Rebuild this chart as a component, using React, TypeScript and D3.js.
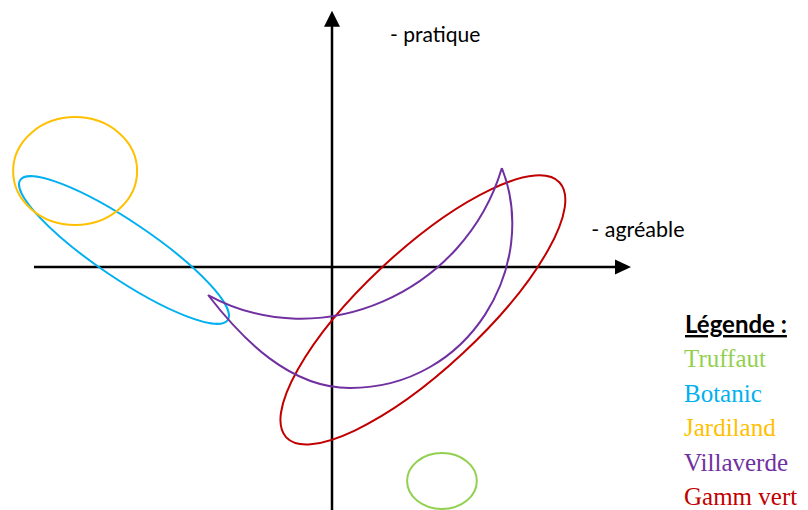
import React from 'react';
import * as d3 from 'd3';

const WIDTH = 808;
const HEIGHT = 510;

// legend order
const brands = ['Truffaut', 'Botanic', 'Jardiland', 'Villaverde', 'Gamm vert'];
const brandColors = ['#92D050', '#00B0F0', '#FFC000', '#7030A0', '#C00000'];

// ellipse brands: centre, half axes, rotation (degrees, counter-clockwise)
const ellipseBrands = ['Truffaut', 'Botanic', 'Jardiland', 'Gamm vert'];
const ellipseCx = [3.69, -6.98, -8.62, 3.05];
const ellipseCy = [-7.18, 0.57, 3.22, -1.44];
const ellipseRx = [1.17, 4.2, 2.08, 6.27];
const ellipseRy = [0.94, 0.95, 1.81, 1.98];
const ellipseAngle = [0, -34, 0, 43];

// Villaverde crescent as cubic bezier segments (start, ctrl, ctrl, end, ...)
const villaverdeUpper: [number, number][] = [
  [-4.16, -0.94], [-0.40, -3.0], [4.46, -0.87], [5.70, 3.32],
];
const villaverdeLower: [number, number][] = [
  [-4.16, -0.94], [-2.99, -2.45], [-1.41, -4.06], [0.60, -4.06],
  [4.63, -4.06], [6.98, 0.07], [5.70, 3.32],
];

// axes
const xAxisExtent = [-10, 10];
const yAxisExtent = [-8.2, 8.6];
const xAxisLabel = '- agréable';
const yAxisLabel = '- pratique';
const legendTitle = 'Légende :';

export default function App() {
  const x = d3.scaleLinear().domain([-10, 10]).range([34, 630]);
  const y = d3.scaleLinear().domain([-10, 10]).range([565, -31]);
  const k = x(1) - x(0);

  const bez = (p: d3.Path, pts: [number, number][]) => {
    for (let i = 1; i + 2 < pts.length; i += 3) {
      p.bezierCurveTo(
        x(pts[i][0]), y(pts[i][1]),
        x(pts[i + 1][0]), y(pts[i + 1][1]),
        x(pts[i + 2][0]), y(pts[i + 2][1]),
      );
    }
  };
  const cp = d3.path();
  cp.moveTo(x(villaverdeUpper[0][0]), y(villaverdeUpper[0][1]));
  bez(cp, villaverdeUpper);
  cp.moveTo(x(villaverdeLower[0][0]), y(villaverdeLower[0][1]));
  bez(cp, villaverdeLower);

  const x0 = x(0);
  const y0 = y(0);
  const xEnd = x(xAxisExtent[1]);
  const yTop = y(yAxisExtent[1]);

  const sans = 'Lato, "Open Sans", sans-serif';

  return (
    <svg width={WIDTH} height={HEIGHT} style={{ position: 'absolute', left: 0, top: 0, background: '#fff' }}>
      {/* axes */}
      <g stroke="#000" strokeWidth={2.5}>
        <line x1={x(xAxisExtent[0])} x2={xEnd - 14} y1={y0} y2={y0} />
        <line x1={x0} x2={x0} y1={y(yAxisExtent[0])} y2={yTop + 14} />
      </g>
      <polygon points={`${xEnd + 1},${y0} ${xEnd - 15},${y0 - 7.5} ${xEnd - 15},${y0 + 7.5}`} fill="#000" />
      <polygon points={`${x0},${yTop} ${x0 - 8},${yTop + 16} ${x0 + 8},${yTop + 16}`} fill="#000" />
      <text x={x(8.7)} y={y(1)} fontFamily={sans} fontSize={21.5} fill="#000">{xAxisLabel}</text>
      <text x={x(1.95)} y={y(7.55)} fontFamily={sans} fontSize={21} fill="#000">{yAxisLabel}</text>

      {/* brands */}
      <g fill="none" strokeWidth={2}>
        {ellipseBrands.map((b, i) => (
          <ellipse
            key={b}
            cx={x(ellipseCx[i])}
            cy={y(ellipseCy[i])}
            rx={ellipseRx[i] * k}
            ry={ellipseRy[i] * k}
            transform={`rotate(${-ellipseAngle[i]},${x(ellipseCx[i])},${y(ellipseCy[i])})`}
            stroke={brandColors[brands.indexOf(b)]}
          />
        ))}
        <path d={cp.toString()} stroke={brandColors[brands.indexOf('Villaverde')]} />
      </g>

      {/* legend */}
      <text x={685} y={333} fontFamily={sans} fontWeight="bold" fontSize={24} fill="#000" textDecoration="underline">{legendTitle}</text>
      {brands.map((b, i) => (
        <text key={b} x={684} y={367 + i * 34.5} fontFamily='"Liberation Serif", "Times New Roman", serif' fontSize={25} fill={brandColors[i]}>{b}</text>
      ))}
    </svg>
  );
}
